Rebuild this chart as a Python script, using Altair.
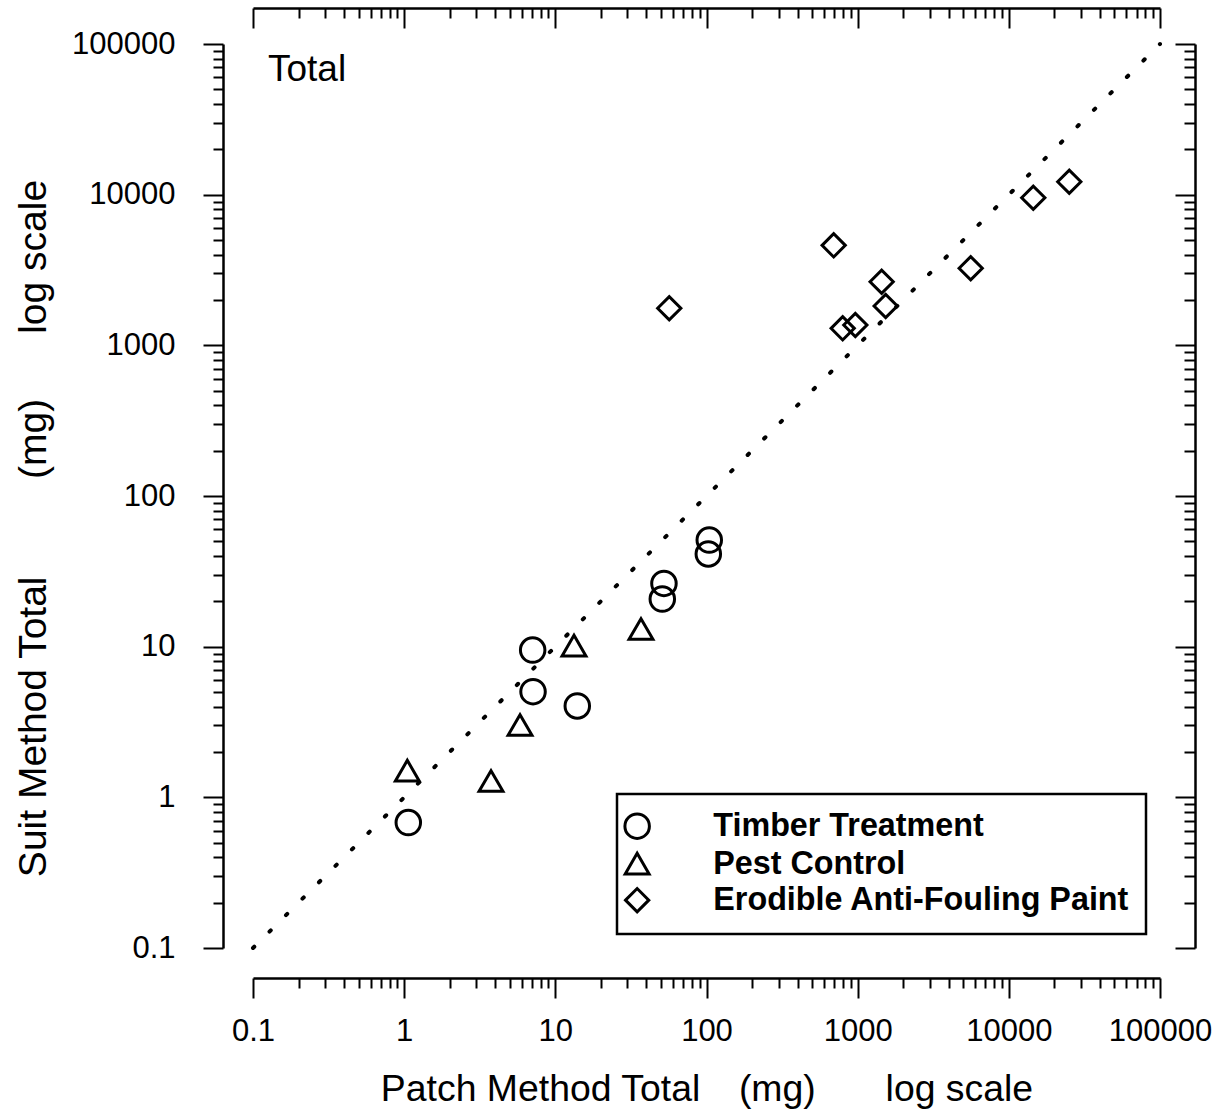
import altair as alt
import pandas as pd

# ---------------- data ----------------
categories = ["Timber Treatment", "Pest Control", "Erodible Anti-Fouling Paint"]
shapes = ["circle", "triangle-up", "diamond"]
sizes = [600, 540, 900]

timber_x = [1.065, 7.08, 7.12, 13.97, 52.3, 51.0, 104.3, 102.8]
timber_y = [0.68, 9.50, 5.03, 4.04, 26.3, 20.7, 51.0, 41.2]

pest_x = [1.049, 3.754, 5.84, 13.29, 36.87]
pest_y = [1.503, 1.283, 3.02, 10.15, 13.1]

paint_x = [56.7, 694, 1441, 1532, 796, 965, 5594, 14510, 25110]
paint_y = [1761, 4611, 2645, 1824, 1297, 1364, 3245, 9546, 12190]

line_x = [0.1, 100000]
line_y = [0.1, 100000]

major_ticks = [0.1, 1, 10, 100, 1000, 10000, 100000]
minor_ticks = [round(m * d, 6) for d in [0.1, 1, 10, 100, 1000, 10000] for m in range(2, 10)]

panel_label = ["Total"]
NB = "\u00a0"
TH = "\u2009"
x_title = "Patch Method Total" + NB * 3 + TH + "(mg)" + NB * 6 + TH + "log scale"
y_title = "Suit Method Total" + NB * 8 + " (mg)" + NB * 5 + " log scale"

# ---------------- frames ----------------
rows = []
for cat, xs, ys in zip(categories, [timber_x, pest_x, paint_x], [timber_y, pest_y, paint_y]):
    for a, b in zip(xs, ys):
        rows.append({"cat": cat, "x": a, "y": b})
df = pd.DataFrame(rows)
line_df = pd.DataFrame({"x": line_x, "y": line_y})
label_df = pd.DataFrame({"label": panel_label})

W, H = 907, 904
FONT = "Liberation Sans"


def sc():
    return alt.Scale(type="log", domain=[0.1, 100000], nice=False)


common = dict(grid=False, domainColor="black", tickColor="black", tickWidth=2,
              domainWidth=2.5, labelColor="black", titleColor="black")

bottom_major = alt.Axis(orient="bottom", offset=30, values=major_ticks, tickSize=20,
                        labelFont=FONT, labelFontSize=31, labelPadding=18,
                        labelFlush=False, labelOverlap=False, format="~g",
                        title=x_title, titleFont=FONT, titleFontSize=37.4,
                        titleFontWeight="normal", titleBaseline="alphabetic",
                        titleX=W / 2, titleY=122, **common)
bottom_minor = alt.Axis(orient="bottom", offset=30, values=minor_ticks, tickSize=10,
                        labels=False, domain=False, title=None, **common)
top_major = alt.Axis(orient="bottom", offset=-(H + 36), values=major_ticks, tickSize=20,
                     labels=False, title=None, **common)
top_minor = alt.Axis(orient="bottom", offset=-(H + 36), values=minor_ticks, tickSize=10,
                     labels=False, domain=False, title=None, **common)

left_major = alt.Axis(orient="left", offset=30, values=major_ticks, tickSize=20,
                      labelFont=FONT, labelFontSize=31, labelPadding=28,
                      labelFlush=False, labelOverlap=False, format="~g",
                      title=y_title, titleFont=FONT, titleFontSize=39,
                      titleFontWeight="normal", titleBaseline="alphabetic",
                      titleAngle=270, titleX=-178, titleY=484, **common)
left_minor = alt.Axis(orient="left", offset=30, values=minor_ticks, tickSize=10,
                      labels=False, domain=False, title=None, **common)
right_major = alt.Axis(orient="left", offset=-942, values=major_ticks, tickSize=20,
                       labels=False, title=None, **common)
right_minor = alt.Axis(orient="left", offset=-942, values=minor_ticks, tickSize=11,
                       labels=False, domain=False, title=None, **common)

leg = alt.Legend(title=None, orient="none", legendX=364, legendY=750,
                 direction="vertical", labelFont=FONT, labelFontSize=32.3,
                 labelFontWeight="bold", labelColor="black", labelOffset=60,
                 labelLimit=700, padding=16, rowPadding=1.5, strokeColor="black",
                 symbolOffset=-12,
                 symbolStrokeColor="black", symbolStrokeWidth=3)

points = alt.Chart(df).mark_point(filled=False, strokeWidth=3, color="black",
                                  opacity=1).encode(
    x=alt.X("x:Q", scale=sc(), axis=bottom_major),
    y=alt.Y("y:Q", scale=sc(), axis=left_major),
    shape=alt.Shape("cat:N", scale=alt.Scale(domain=categories, range=shapes), legend=leg),
    size=alt.Size("cat:N", scale=alt.Scale(domain=categories, range=sizes), legend=leg),
)

diag = alt.Chart(line_df).mark_line(color="black", strokeWidth=4,
                                    strokeDash=[1.8, 21.48], strokeCap="round").encode(
    x=alt.X("x:Q", scale=sc(), axis=bottom_minor),
    y=alt.Y("y:Q", scale=sc(), axis=left_minor),
)

frame1 = alt.Chart(line_df).mark_line(opacity=0).encode(
    x=alt.X("x:Q", scale=sc(), axis=top_major),
    y=alt.Y("y:Q", scale=sc(), axis=right_major),
)
frame2 = alt.Chart(line_df).mark_line(opacity=0).encode(
    x=alt.X("x:Q", scale=sc(), axis=top_minor),
    y=alt.Y("y:Q", scale=sc(), axis=right_minor),
)

label = alt.Chart(label_df).mark_text(align="left", baseline="alphabetic", font=FONT,
                                      fontSize=37, color="black").encode(
    x=alt.value(15), y=alt.value(37), text="label:N")

chart = alt.layer(diag, points, frame1, frame2, label).resolve_scale(
    x="independent", y="independent").resolve_axis(
    x="independent", y="independent").properties(
    width=W, height=H, autosize=alt.AutoSizeParams(type="none"),
    padding={"left": 253, "top": 44, "right": 60, "bottom": 172},
    background="white",
).configure_view(stroke=None).configure_legend(strokeWidth=2.5)

chart.save("out.html", embed_options={"renderer": "svg", "actions": False})
